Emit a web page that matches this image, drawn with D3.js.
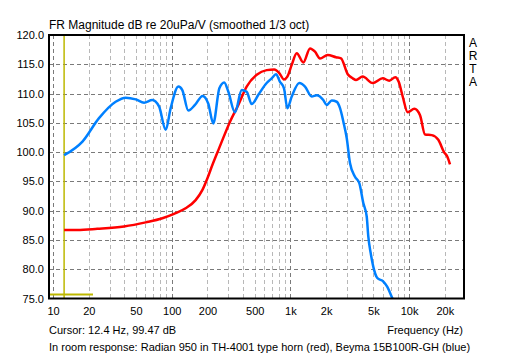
<!DOCTYPE html>
<html>
<head>
<meta charset="utf-8">
<script src="https://cdn.jsdelivr.net/npm/d3@7.9.0/dist/d3.min.js"></script>
<style>
  body { margin: 0; background: #fff; }
  svg text { font-family: Arial, "Liberation Sans", sans-serif; font-size: 11px; fill: #000; }
</style>
</head>
<body>
<div id="chart"></div>
<script>
// blue: Beyma 15B100R-GH
const blueFreq = [12.4, 17.7, 24.4, 33.7, 41, 49.8, 58.5, 68.6, 78.2, 89, 98, 113.8, 122.8, 138, 157, 182, 203, 224, 252, 277, 300, 341, 389, 428, 472, 537, 631, 695, 756, 817, 883, 942, 1026, 1189, 1327, 1511, 1666, 1892, 2021, 2228, 2455, 2618, 2793, 2981, 3178, 3500, 3805, 4112, 4393, 4530, 4750, 4994, 5395, 6067, 6552, 7132, 7500];
const blueDb = [99.47, 101.8, 105.8, 108.6, 109.3, 109.0, 108.45, 108.9, 107.8, 103.8, 107.5, 111.2, 110.6, 107.1, 108.05, 109.6, 108.3, 104.9, 110.9, 111.9, 110.3, 106.8, 110.6, 110.3, 108.2, 109.8, 111.8, 112.6, 113.3, 112.0, 110.9, 107.5, 109.5, 111.8, 111.2, 109.5, 109.7, 108.9, 108.05, 108.8, 108.6, 107.5, 105.2, 102.4, 98.1, 95.8, 94.7, 91.3, 89.0, 85.6, 82.7, 80.4, 78.5, 77.9, 77.0, 75.3, 74.3];

// red: Radian 950 in TH-4001 horn
const redFreq = [12.4, 16, 23.6, 39.6, 60.4, 83.4, 104.5, 131, 159, 181, 199.6, 220, 250, 310, 364, 428, 520, 631, 731, 806, 883, 942, 1026, 1130, 1285, 1463, 1611, 1775, 2061, 2421, 2667, 3040, 3350, 3573, 4064, 4931, 5986, 6808, 7655, 8172, 8830, 9730, 11070, 12360, 13620, 15500, 17620, 19670, 21000, 22100];
const redDb = [86.7, 86.7, 86.9, 87.3, 88.0, 88.7, 89.45, 90.4, 91.8, 93.5, 95.5, 97.8, 100.6, 105.2, 108.05, 111.2, 113.2, 114.0, 114.1, 113.5, 112.4, 112.9, 114.9, 116.9, 115.3, 117.7, 117.15, 116.0, 116.6, 116.2, 116.0, 113.3, 112.6, 112.3, 112.9, 111.8, 112.6, 112.2, 112.8, 112.0, 109.5, 106.8, 107.4, 106.3, 103.0, 102.9, 102.1, 100.0, 99.2, 97.9];

const xTicks = [10, 20, 50, 100, 200, 500, 1000, 2000, 5000, 10000, 20000];
const xTickLabels = ["10", "20", "50", "100", "200", "500", "1k", "2k", "5k", "10k", "20k"];
const yTicks = [75, 80, 85, 90, 95, 100, 105, 110, 115, 120];
const gridFreqs = [10, 20, 30, 40, 50, 60, 70, 80, 90, 100, 200, 300, 400, 500, 600, 700, 800, 900,
  1000, 2000, 3000, 4000, 5000, 6000, 7000, 8000, 9000, 10000, 20000];
const decades = [10, 100, 1000, 10000];
const cursorFreq = 12.4;
const cursorDb = 99.47;

const W = 512, H = 358;
const L = 49, R = 464, T = 35, B = 298.5;

const svg = d3.select('#chart').append('svg')
  .attr('width', W).attr('height', H);

const x = d3.scaleLog().domain([9.25, 29000]).range([L, R]);
const y = d3.scaleLinear().domain([75, 120]).range([B, T]);

svg.append('defs').append('clipPath').attr('id', 'plot')
  .append('rect').attr('x', L).attr('y', T).attr('width', R - L).attr('height', B - T);

// grid
const grid = svg.append('g');
grid.selectAll('line.v').data(gridFreqs).join('line')
  .attr('x1', d => Math.round(x(d)) + 0.5).attr('x2', d => Math.round(x(d)) + 0.5)
  .attr('y1', T).attr('y2', B)
  .attr('stroke', d => decades.includes(d) ? '#7a7a7a' : '#b8b8b8')
  .attr('stroke-dasharray', '4,3');
grid.selectAll('line.h').data(yTicks.slice(1, -1)).join('line')
  .attr('x1', L).attr('x2', R)
  .attr('y1', d => Math.round(y(d)) + 0.5).attr('y2', d => Math.round(y(d)) + 0.5)
  .attr('stroke', '#7a7a7a')
  .attr('stroke-dasharray', '4,3');

// cursor
const cur = svg.append('g').attr('stroke', '#bdb800');
cur.append('line').attr('x1', x(cursorFreq)).attr('x2', x(cursorFreq))
  .attr('y1', T).attr('y2', B).attr('stroke-width', 1.5);
cur.append('line').attr('x1', L).attr('x2', 93)
  .attr('y1', B - 4).attr('y2', B - 4).attr('stroke-width', 2);

// curves
const line = d3.line().x(d => x(d[0])).y(d => y(d[1])).curve(d3.curveMonotoneX);
const plot = svg.append('g').attr('clip-path', 'url(#plot)');
plot.append('path').datum(d3.zip(redFreq, redDb))
  .attr('d', line).attr('fill', 'none').attr('stroke', '#ff0000').attr('stroke-width', 2.5);
plot.append('path').datum(d3.zip(blueFreq, blueDb))
  .attr('d', line).attr('fill', 'none').attr('stroke', '#0080ff').attr('stroke-width', 2.5);

// frame
svg.append('rect').attr('x', L).attr('y', T).attr('width', R - L).attr('height', B - T)
  .attr('fill', 'none').attr('stroke', '#000').attr('stroke-width', 2);

// axes labels
const yAxis = svg.append('g').attr('transform', `translate(${L},0)`)
  .call(d3.axisLeft(y).tickValues(yTicks).tickSize(0).tickPadding(5).tickFormat(d3.format('.1f')));
const xAxis = svg.append('g').attr('transform', `translate(0,${B})`)
  .call(d3.axisBottom(x).tickValues(xTicks).tickSize(0).tickPadding(9)
    .tickFormat((d, i) => xTickLabels[i]));
[yAxis, xAxis].forEach(a => {
  a.select('.domain').remove();
  a.selectAll('text').attr('font-family', 'Arial, "Liberation Sans", sans-serif')
    .attr('font-size', 11).attr('fill', '#000');
});

svg.append('text').attr('x', L).attr('y', 29).style('font-size', '12px')
  .text('FR Magnitude dB re 20uPa/V (smoothed 1/3 oct)');
svg.append('g').selectAll('text').data(['A', 'R', 'T', 'A']).join('text')
  .attr('x', 473).attr('y', (d, i) => 47 + i * 13.1).attr('text-anchor', 'middle')
  .style('font-size', '12px').text(d => d);
svg.append('text').attr('x', L).attr('y', 334)
  .text(`Cursor: ${cursorFreq} Hz, ${cursorDb} dB`);
svg.append('text').attr('x', 463).attr('y', 334).attr('text-anchor', 'end')
  .text('Frequency (Hz)');
svg.append('text').attr('x', L).attr('y', 351)
  .text('In room response: Radian 950 in TH-4001 type horn (red), Beyma 15B100R-GH (blue)');
</script>
</body>
</html>
